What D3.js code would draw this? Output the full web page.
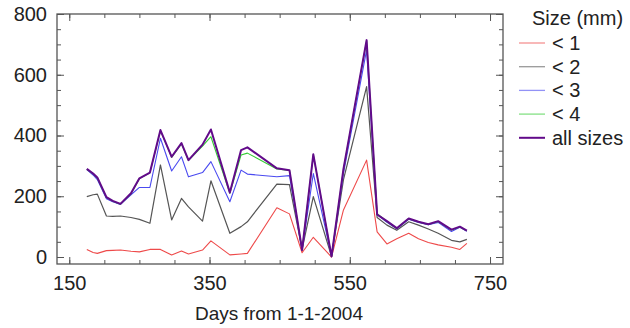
<!DOCTYPE html>
<html>
<head>
<meta charset="utf-8">
<script src="https://cdn.jsdelivr.net/npm/d3@7"></script>
<style>
body { margin: 0; background: #fff; }
text { font-family: "Liberation Sans", Arial, sans-serif; fill: #222; }
</style>
</head>
<body>
<svg width="630" height="328"></svg>
<script>
// days from 1-1-2004
var days = [175, 184, 190, 203, 212, 223, 238, 250, 265, 280, 296, 310, 320, 340, 352, 379, 395, 404,
            446, 464, 482, 498, 524, 541, 574, 589, 603, 617, 634, 648, 662, 676, 695, 707, 717];

var lt1 = [25, 15, 12, 21, 22, 23, 19, 17, 25, 25, 7, 20, 10, 23, 53, 7, 10, 12,
           162, 142, 14, 65, 0, 155, 319, 83, 43, 60, 78, 60, 48, 40, 32, 25, 45];
var lt2 = [199, 205, 207, 135, 134, 135, 130, 124, 111, 303, 122, 193, 165, 118, 251, 78, 100, 116,
           240, 238, 25, 199, 2, 255, 561, 130, 105, 88, 116, 105, 92, 78, 55, 50, 58];
var lt3 = [288, 270, 255, 192, 182, 173, 205, 229, 229, 391, 283, 330, 264, 278, 314, 182, 286, 273,
           264, 268, 23, 275, 2, 275, 682, 140, 114, 93, 124, 114, 106, 114, 84, 98, 85];
var lt4 = [289, 274, 260, 196, 184, 174, 208, 258, 277, 416, 328, 373, 318, 365, 396, 210, 336, 342,
           290, 285, 23, 337, 2, 288, 712, 143, 117, 94, 126, 115, 107, 117, 89, 99, 86];
var allSizes = [290, 275, 262, 197, 185, 175, 210, 259, 278, 418, 330, 375, 319, 370, 420, 212, 352, 361,
                292, 286, 23, 338, 2, 290, 714, 140, 118, 95, 127, 116, 108, 118, 90, 100, 87];

var xLabels = [150, 350, 550, 750],
    yLabels = [0, 200, 400, 600, 800];

var series = [
  {name: "< 1", values: lt1, color: "#ee4a4a", width: 1.1},
  {name: "< 2", values: lt2, color: "#555555", width: 1.2},
  {name: "< 3", values: lt3, color: "#4a4af0", width: 1.1},
  {name: "< 4", values: lt4, color: "#33cc33", width: 1.1},
  {name: "all sizes", values: allSizes, color: "#620a8a", width: 2}
];

var svg = d3.select("svg"),
    margin = {top: 14, right: 127, bottom: 64, left: 57},
    width = +svg.attr("width") - margin.left - margin.right,
    height = +svg.attr("height") - margin.top - margin.bottom,
    g = svg.append("g").attr("transform", "translate(" + margin.left + "," + margin.top + ")");

var x = d3.scaleLinear().domain([132.5, 768.5]).range([0, width]),
    y = d3.scaleLinear().domain([-23, 800]).range([height, 0]);

var minorX = d3.range(150, 751, 50),
    minorY = d3.range(0, 801, 50);

function axisGroup(axis, tx, ty) {
  var a = g.append("g")
      .attr("transform", "translate(" + tx + "," + ty + ")")
      .call(axis);
  a.select(".domain").remove();
  a.selectAll("line").attr("stroke", "#555");
  return a;
}

// minor ticks on all four sides
axisGroup(d3.axisBottom(x).tickValues(minorX).tickSize(-4).tickFormat(""), 0, height);
axisGroup(d3.axisTop(x).tickValues(minorX).tickSize(-4).tickFormat(""), 0, 0);
axisGroup(d3.axisLeft(y).tickValues(minorY).tickSize(-4).tickFormat(""), 0, 0);
axisGroup(d3.axisRight(y).tickValues(minorY).tickSize(-4).tickFormat(""), width, 0);

// major ticks with labels
var xAxis = axisGroup(d3.axisBottom(x).tickValues(xLabels).tickSize(-7).tickPadding(12), 0, height);
var yAxis = axisGroup(d3.axisLeft(y).tickValues(yLabels).tickSize(-7).tickPadding(10), 0, 0);
axisGroup(d3.axisTop(x).tickValues(xLabels).tickSize(-7).tickFormat(""), 0, 0);
axisGroup(d3.axisRight(y).tickValues(yLabels).tickSize(-7).tickFormat(""), width, 0);

xAxis.selectAll("text").style("font-size", "20px").attr("fill", "#222");
yAxis.selectAll("text").style("font-size", "20px").attr("fill", "#222");

g.append("rect")
    .attr("width", width)
    .attr("height", height)
    .attr("fill", "none")
    .attr("stroke", "#555")
    .attr("stroke-width", 1.3);

var line = d3.line()
    .x(function(d, i) { return x(days[i]); })
    .y(function(d) { return y(d); });

g.selectAll(".series")
  .data(series)
  .enter().append("path")
    .attr("class", "series")
    .attr("fill", "none")
    .attr("stroke", function(d) { return d.color; })
    .attr("stroke-width", function(d) { return d.width; })
    .attr("stroke-linejoin", "round")
    .attr("d", function(d) { return line(d.values); });

svg.append("text")
    .attr("x", 279)
    .attr("y", 320)
    .attr("text-anchor", "middle")
    .style("font-size", "19px")
    .text("Days from 1-1-2004");

// legend
var legend = svg.append("g").attr("transform", "translate(519,0)");

legend.append("text")
    .attr("x", 13)
    .attr("y", 25)
    .style("font-size", "20px")
    .text("Size (mm)");

var item = legend.selectAll(".item")
  .data(series)
  .enter().append("g")
    .attr("class", "item")
    .attr("transform", function(d, i) { return "translate(0," + (43 + i * 23.7) + ")"; });

item.append("line")
    .attr("x1", 0)
    .attr("x2", 26)
    .attr("stroke", function(d) { return d3.interpolateRgb(d.color, "#fff")(d.name == "all sizes" ? 0 : 0.4); })
    .attr("stroke-width", function(d) { return d.name == "all sizes" ? 2 : 1.3; });

item.append("text")
    .attr("x", 33)
    .attr("dy", "0.35em")
    .style("font-size", "20px")
    .text(function(d) { return d.name; });
</script>
</body>
</html>
